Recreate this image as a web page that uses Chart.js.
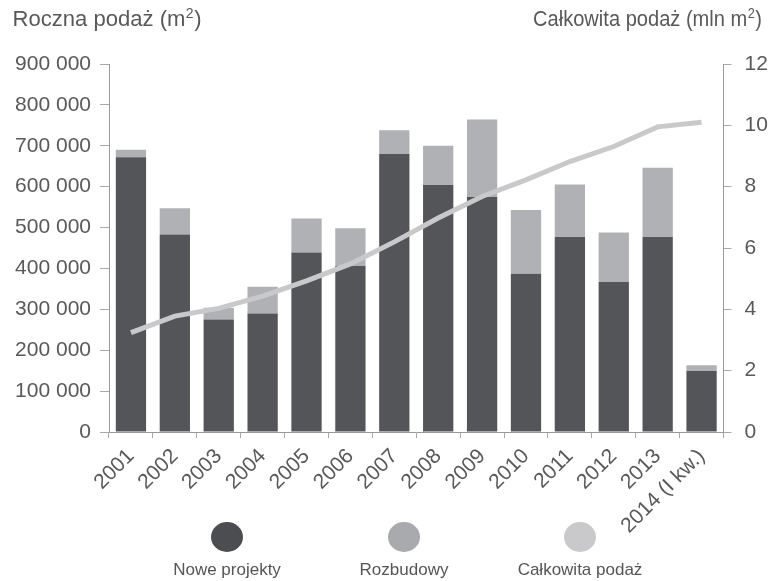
<!DOCTYPE html>
<html>
<head>
<meta charset="utf-8">
<script src="https://cdn.jsdelivr.net/npm/chart.js@4/dist/chart.umd.min.js"></script>
<style>
  html, body { margin: 0; padding: 0; background: #fff; }
  #wrap { width: 771px; height: 581px; }
</style>
</head>
<body>
<div id="wrap"><canvas id="chart" width="771" height="581"></canvas></div>
<script>
// data
const years = ['2001', '2002', '2003', '2004', '2005', '2006', '2007', '2008', '2009', '2010', '2011', '2012', '2013', '2014 (I kw.)'];
const noweProjekty = [672000, 483000, 275000, 290000, 439000, 406000, 680000, 604000, 575000, 387000, 477000, 367000, 477000, 149000];
const rozbudowy = [18000, 64000, 29000, 65000, 83000, 92000, 58000, 96000, 189000, 156000, 128000, 121000, 169000, 14000];
const calkowitaPodaz = [3.24, 3.78, 4.03, 4.43, 4.93, 5.48, 6.2, 6.98, 7.68, 8.22, 8.82, 9.31, 9.95, 10.1];

const FONT = '"Liberation Sans", Arial, sans-serif';
Chart.defaults.font.family = FONT;
Chart.defaults.font.size = 21;
Chart.defaults.color = '#595959';

const colors = ['#545558', '#b0b1b4', '#c9c9cb'];

// text with a small raised "2", squeezed to the given width
function drawTitle(ctx, main, tail, left, base, width) {
  ctx.font = '22px ' + FONT;
  const w1 = ctx.measureText(main).width;
  const w3 = ctx.measureText(tail).width;
  ctx.font = '14px ' + FONT;
  const w2 = ctx.measureText('2').width + 1;
  const k = width / (w1 + w2 + w3);
  ctx.save();
  ctx.translate(left, base);
  ctx.scale(k, 1);
  ctx.textAlign = 'left';
  ctx.font = '22px ' + FONT;
  ctx.fillText(main, 0, 0);
  ctx.fillText(tail, w1 + w2, 0);
  ctx.font = '14px ' + FONT;
  ctx.fillText('2', w1 + 0.5, -8);
  ctx.restore();
}

// titles on top + legend with circles above the names
const overlay = {
  id: 'overlay',
  afterDraw(chart) {
    const ctx = chart.ctx;
    ctx.save();
    ctx.fillStyle = '#595959';
    drawTitle(ctx, 'Roczna podaż (m', ')', 12.5, 26, 189);
    drawTitle(ctx, 'Całkowita podaż (mln m', ')', 533, 26, 229);

    const xs = [227, 404, 580];
    ctx.font = '17px ' + FONT;
    ctx.textAlign = 'center';
    chart.data.datasets.forEach((ds, i) => {
      ctx.fillStyle = ds.legendColor;
      ctx.beginPath();
      ctx.ellipse(xs[i], 537, 16, 15, 0, 0, Math.PI * 2);
      ctx.fill();
      ctx.fillStyle = '#555';
      ctx.fillText(ds.label, xs[i], 575);
    });
    ctx.restore();
  }
};

new Chart(document.getElementById('chart'), {
  type: 'bar',
  data: {
    labels: years,
    datasets: [
      {
        label: 'Nowe projekty',
        data: noweProjekty,
        backgroundColor: colors[0],
        yAxisID: 'y',
        order: 1,
        legendColor: '#4c4d50'
      },
      {
        label: 'Rozbudowy',
        data: rozbudowy,
        backgroundColor: colors[1],
        yAxisID: 'y',
        order: 1,
        legendColor: '#a9aaad'
      },
      {
        type: 'line',
        label: 'Całkowita podaż',
        data: calkowitaPodaz,
        yAxisID: 'y1',
        borderColor: colors[2],
        borderWidth: 5,
        pointRadius: 0,
        tension: 0,
        order: 0,
        legendColor: colors[2]
      }
    ]
  },
  options: {
    responsive: false,
    animation: false,
    layout: { padding: { top: 64, left: 0, right: 0, bottom: 0 } },
    datasets: { bar: { barPercentage: 0.69, categoryPercentage: 1 } },
    plugins: { legend: { display: false }, tooltip: { enabled: false } },
    scales: {
      x: {
        stacked: true,
        grid: { drawOnChartArea: false, offset: true, tickLength: 6, color: '#aaa' },
        border: { color: '#999' },
        ticks: { minRotation: 45, maxRotation: 45, autoSkip: false, padding: 6 },
        afterFit(s) { s.height = 149; }
      },
      y: {
        stacked: true,
        position: 'left',
        min: 0,
        max: 900000,
        grid: { drawOnChartArea: false, tickLength: 9, color: '#aaa' },
        border: { color: '#999' },
        ticks: {
          stepSize: 100000,
          padding: 9,
          callback: v => String(v).replace(/\B(?=(\d{3})+(?!\d))/g, ' ')
        },
        afterFit(s) { s.width = 109; }
      },
      y1: {
        position: 'right',
        min: 0,
        max: 12,
        grid: { drawOnChartArea: false, tickLength: 8, color: '#aaa' },
        border: { color: '#999' },
        ticks: { stepSize: 2, padding: 13 },
        afterFit(s) { s.width = 47.5; }
      }
    }
  },
  plugins: [overlay]
});
</script>
</body>
</html>
